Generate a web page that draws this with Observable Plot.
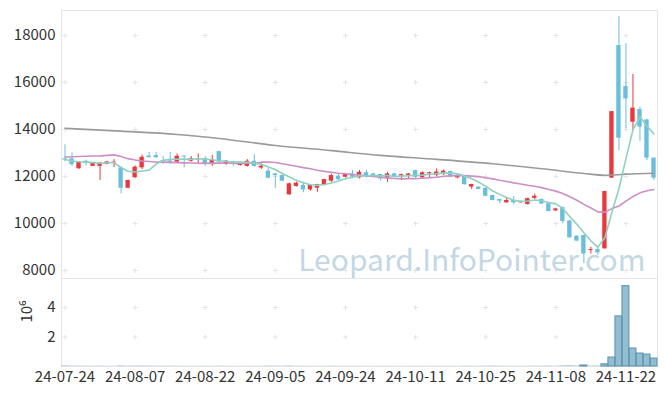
<!DOCTYPE html>
<html><head><meta charset="utf-8">
<script src="https://cdn.jsdelivr.net/npm/d3@7"></script>
<script src="https://cdn.jsdelivr.net/npm/@observablehq/plot@0.6"></script>
<style>
html,body{margin:0;padding:0;background:#fff;}
#chart{width:665px;height:396px;}
#chart svg{display:block;}
</style></head><body><div id="chart"></div>
<script>
const dates = ["24-07-24","24-07-25","24-07-26","24-07-29","24-07-30","24-07-31","24-08-01","24-08-02","24-08-05","24-08-06",
"24-08-07","24-08-08","24-08-09","24-08-12","24-08-13","24-08-14","24-08-16","24-08-19","24-08-20","24-08-21",
"24-08-22","24-08-23","24-08-26","24-08-27","24-08-28","24-08-29","24-08-30","24-09-02","24-09-03","24-09-04",
"24-09-05","24-09-06","24-09-09","24-09-10","24-09-11","24-09-12","24-09-13","24-09-19","24-09-20","24-09-23",
"24-09-24","24-09-25","24-09-26","24-09-27","24-09-30","24-10-02","24-10-04","24-10-07","24-10-08","24-10-10",
"24-10-11","24-10-14","24-10-15","24-10-16","24-10-17","24-10-18","24-10-21","24-10-22","24-10-23","24-10-24",
"24-10-25","24-10-28","24-10-29","24-10-30","24-10-31","24-11-01","24-11-04","24-11-05","24-11-06","24-11-07",
"24-11-08","24-11-11","24-11-12","24-11-13","24-11-14","24-11-15","24-11-18","24-11-19","24-11-20","24-11-21",
"24-11-22","24-11-25","24-11-26","24-11-27","24-11-28"];

const opens = [12750,12750,12330,12650,12430,12430,12520,12570,12370,11500,
11950,12370,12870,12890,12680,12660,12610,12870,12650,12710,
12750,12510,13060,12510,12610,12470,12430,12650,12360,12230,
12110,12040,11220,11575,11620,11430,11500,11620,11800,12015,
11970,12110,11940,12160,12110,12085,11900,12110,12020,12050,
12250,11940,12110,12040,12140,12210,11940,12010,11550,11550,
11500,11190,11020,10880,10980,10880,10810,11070,11020,10840,
10540,10680,10110,9460,9490,8850,8890,8920,11930,17570,
15830,14310,14850,14410,12780];
const highs = [13350,13000,12640,12700,12600,12600,12650,12720,12420,11850,
12450,12920,13020,13030,12850,13030,12960,12880,12850,12960,
12850,12900,13070,12680,12650,12600,12720,12940,12540,12330,
12130,12060,11720,11760,11760,11640,11670,11880,12100,12100,
12140,12250,12260,12260,12130,12090,12180,12130,12100,12120,
12270,12200,12190,12330,12280,12230,12060,12020,11670,11560,
11510,11200,11030,11080,11150,10950,11080,11250,11050,10850,
10650,10700,10120,9470,9500,8990,9000,11370,14770,18800,
17650,16340,14950,14420,12790];
const lows = [12620,12430,12300,12450,12420,11830,12500,12380,11260,11480,
11920,12290,12790,12750,12510,12510,12570,12370,12610,12510,
12430,12430,12600,12480,12430,12440,12400,12400,12300,11900,
11480,11780,11200,11550,11310,11370,11330,11600,11750,11830,
11940,11900,11900,11940,12000,11800,11750,11950,11830,11900,
11870,11920,11940,11970,12040,11950,11900,11640,11450,11440,
11140,10960,10840,10860,10800,10870,10780,11010,10810,10500,
10500,9990,9380,9240,8290,8700,8650,8910,11920,13100,
14030,13990,13500,12680,11830];
const closes = [12700,12500,12610,12570,12570,12570,12620,12610,11500,11830,
12400,12820,12800,12800,12620,12600,12860,12830,12750,12740,
12540,12710,12610,12650,12540,12570,12650,12430,12440,11930,
12040,11800,11690,11720,11430,11620,11660,11870,12040,11860,
12090,11970,12180,12010,12020,11900,12110,11970,12080,12110,
11970,12160,12160,12190,12230,11970,12040,11650,11660,11450,
11160,10980,10950,10980,10880,10920,11060,11160,10830,10510,
10620,10090,9390,9250,8700,8890,8750,11360,14760,13630,
15300,14910,14100,12780,11930];
const volumes = [38000,25000,21000,18000,16000,22000,15000,14000,35000,19000,
24000,30000,22000,17000,15000,18000,16000,14000,13000,12000,
15000,13000,21000,12000,11000,10000,12000,14000,11000,26000,
22000,17000,28000,15000,16000,12000,11000,14000,17000,13000,
12000,11000,14000,10000,9000,12000,13000,10000,9000,11000,
12000,13000,11000,14000,12000,15000,10000,18000,14000,12000,
20000,22000,16000,14000,15000,11000,16000,18000,15000,24000,
15000,35000,45000,30000,70000,25000,30000,150000,610000,3400000,
5450000,1220000,880000,810000,540000];
const ma5 = [12720,12660,12630,12610,12590,12564,12588,12588,12374,12226,
12192,12232,12270,12530,12688,12728,12736,12742,12732,12756,
12744,12714,12670,12650,12610,12616,12604,12568,12526,12404,
12298,12128,11980,11836,11736,11652,11624,11660,11724,11810,
11904,11966,12028,12022,12054,12016,12044,12002,12016,12034,
12048,12058,12096,12118,12142,12142,12118,12016,11910,11754,
11592,11380,11240,11104,10990,10942,10958,11000,10970,10896,
10836,10642,10288,9972,9610,9264,8996,9390,10492,11478,
12760,13992,14540,14144,13812];
const ma20 = [12830,12840,12850,12860,12870,12880,12900,12920,12850,12760,
12700,12660,12640,12620,12610,12600,12590,12580,12575,12565,
12557,12568,12568,12572,12570,12570,12572,12563,12610,12615,
12597,12546,12490,12436,12377,12328,12268,12220,12184,12140,
12118,12081,12059,12027,12001,11968,11941,11918,11900,11909,
11905,11923,11947,11970,12010,12028,12047,12036,12017,11996,
11950,11900,11839,11787,11730,11681,11629,11588,11526,11446,
11378,11275,11136,10989,10813,10659,10494,10480,10635,10744,
10951,11147,11305,11395,11447];
const maLongIdx = [0, 8, 16, 22, 30, 38, 45, 53, 61, 68, 74, 77, 80, 84];
const maLongVal = [14050, 13930, 13790, 13620, 13320, 13100, 12900, 12730, 12540, 12330, 12130, 12050, 12100, 12140];
const priceTicks = [8000, 10000, 12000, 14000, 16000, 18000];
const volTicks = [2000000, 4000000];
const dateTicks = [0, 10, 20, 30, 40, 50, 60, 70, 80];

const UP = "#e8383d", DOWN = "#68bedb";
const candles = dates.map((d, i) => ({i, o: opens[i], h: highs[i], l: lows[i], c: closes[i], up: closes[i] >= opens[i], v: volumes[i]}));
const isUp = d => d.up, isDown = d => !d.up;
const xDomain = [-0.5, dates.length - 0.5];
const font = '"Noto Sans CJK KR", "Noto Sans", sans-serif';
const style = {fontFamily: font, fontSize: "15px", color: "#333", background: "#fff", overflow: "visible"};
const gridP = dateTicks.flatMap(x => priceTicks.map(y => ({x, y})));
const gridV = dateTicks.flatMap(x => volTicks.map(y => ({x, y})));
const half = 0.31;

const price = Plot.plot({
  width: 665, height: 278,
  marginLeft: 61, marginRight: 8, marginTop: 10, marginBottom: 0,
  style,
  x: {type: "linear", domain: xDomain, axis: null},
  y: {domain: [7660, 19064], axis: null},
  marks: [
    Plot.frame({stroke: "#e3e3e3"}),
    Plot.dot(gridP, {x: "x", y: "y", symbol: "plus", r: 1.7, stroke: "#e4e4e4", strokeWidth: 1}),
    Plot.axisY({ticks: priceTicks, tickSize: 0, tickPadding: 6, tickFormat: d => String(d), label: null, fontSize: 15}),
    Plot.text(["Leopard.InfoPointer.com"], {frameAnchor: "bottom-right", textAnchor: "end", lineAnchor: "bottom", dx: -12, dy: -8, fontSize: 30, fill: "#c3d7e5"}),
    Plot.ruleX(candles, {filter: isUp, x: "i", y1: "l", y2: "h", stroke: UP, strokeWidth: 1}),
    Plot.ruleX(candles, {filter: isDown, x: "i", y1: "l", y2: "h", stroke: DOWN, strokeWidth: 1}),
    Plot.rect(candles, {filter: isUp, x1: d => d.i - half, x2: d => d.i + half, y1: "o", y2: "c", fill: UP}),
    Plot.rect(candles, {filter: isDown, x1: d => d.i - half, x2: d => d.i + half, y1: "o", y2: "c", fill: DOWN}),
    Plot.line(maLongIdx.map((x, k) => ({x, y: maLongVal[k]})), {x: "x", y: "y", stroke: "#9a9a9a", strokeWidth: 1.6, curve: "monotone-x"}),
    Plot.line(candles, {x: "i", y: d => ma20[d.i], stroke: "#cc8fc6", strokeWidth: 1.6}),
    Plot.line(candles, {x: "i", y: d => ma5[d.i], stroke: "#8fd0c0", strokeWidth: 1.6})
  ]
});

const vol = Plot.plot({
  width: 665, height: 118,
  marginLeft: 61, marginRight: 8, marginTop: 0, marginBottom: 30,
  style,
  x: {type: "linear", domain: xDomain, axis: null},
  y: {domain: [0, 5970000], axis: null},
  marks: [
    Plot.frame({stroke: "#e3e3e3"}),
    Plot.dot(gridV, {x: "x", y: "y", symbol: "plus", r: 1.7, stroke: "#e4e4e4", strokeWidth: 1}),
    Plot.axisY({ticks: volTicks, tickSize: 0, tickPadding: 6, tickFormat: d => String(d / 1e6), label: null, fontSize: 15}),
    Plot.axisX({ticks: dateTicks, tickSize: 0, tickPadding: 5, tickFormat: i => dates[i], label: null, fontSize: 15}),
    Plot.text(["10⁶"], {frameAnchor: "left", dx: -34, rotate: -90, fontSize: 15, fill: "#333"}),
    Plot.rect(candles, {x1: d => d.i - 0.5, x2: d => d.i + 0.5, y1: 0, y2: "v", fill: "#93bdd0"}),
    Plot.rect(candles, {filter: d => d.v > 50000, x1: d => d.i - 0.5, x2: d => d.i + 0.5, y1: 0, y2: "v", fill: "none", stroke: "#5b93ae", strokeWidth: 1})
  ]
});

const root = document.getElementById("chart");
root.appendChild(price);
root.appendChild(vol);
</script>
</body></html>
